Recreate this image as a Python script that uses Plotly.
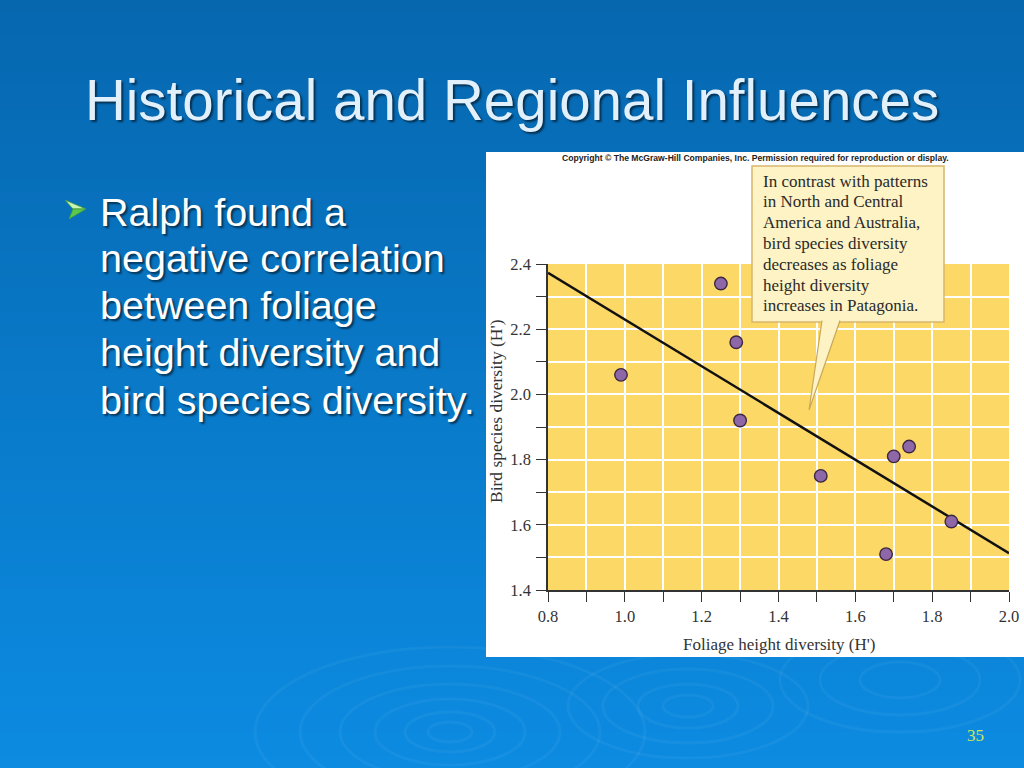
import plotly.graph_objects as go

# ---------------- data ----------------
foliage_height_diversity = [0.99, 1.25, 1.29, 1.30, 1.51, 1.70, 1.74, 1.85, 1.68]
bird_species_diversity = [2.06, 2.34, 2.16, 1.92, 1.75, 1.81, 1.84, 1.61, 1.51]

trend_x = [0.8, 2.0]
trend_y = [2.373, 1.513]

x_tick_values = [0.8, 0.9, 1.0, 1.1, 1.2, 1.3, 1.4, 1.5, 1.6, 1.7, 1.8, 1.9, 2.0]
x_tick_labels = ["0.8", "", "1.0", "", "1.2", "", "1.4", "", "1.6", "", "1.8", "", "2.0"]
y_tick_values = [1.4, 1.5, 1.6, 1.7, 1.8, 1.9, 2.0, 2.1, 2.2, 2.3, 2.4]
y_tick_labels = ["1.4", "", "1.6", "", "1.8", "", "2.0", "", "2.2", "", "2.4"]

slide_title = "Historical and Regional Influences"
bullet_lines = ["Ralph found a", "negative correlation", "between foliage",
                "height diversity and", "bird species diversity."]
callout_lines = ["In contrast with patterns", "in North and Central",
                 "America and Australia,", "bird species diversity",
                 "decreases as foliage", "height diversity",
                 "increases in Patagonia."]
x_title = "Foliage height diversity (H')"
y_title = "Bird species diversity (H')"
copyright_text = "Copyright \u00a9 The McGraw-Hill Companies, Inc. Permission required for reproduction or display."
page_number = "35"

# ---------------- helpers ----------------
W, H = 1024, 768


def px(x):
    return x / W


def py(y):
    return 1 - y / H


SERIF = "Liberation Serif, Times New Roman, serif"
SANS = "Liberation Sans, Arial, sans-serif"

shapes = []

# background gradient (stripes)
top_c = (6, 103, 175)
bot_c = (12, 139, 225)
n = 64
for i in range(n):
    t = i / (n - 1)
    c = tuple(round(top_c[k] + (bot_c[k] - top_c[k]) * t) for k in range(3))
    shapes.append(dict(type="rect", xref="paper", yref="paper",
                       x0=0, x1=1, y0=max(0, py(H * (i + 1) / n + 1)), y1=py(H * i / n),
                       fillcolor="rgb(%d,%d,%d)" % c, line=dict(width=0), layer="below"))

# faint ripples
ripple_sets = [((450, 732), [(22, 10), (45, 20), (75, 33), (110, 48), (150, 66), (195, 85)]),
               ((688, 706), [(25, 11), (50, 22), (85, 37), (120, 52)]),
               ((900, 680), [(40, 18), (80, 35), (120, 52)])]
for (cx, cy), radii in ripple_sets:
    for rx, ry in radii:
        shapes.append(dict(type="circle", xref="paper", yref="paper",
                           x0=px(cx - rx), x1=px(cx + rx), y0=py(cy + ry), y1=py(cy - ry),
                           line=dict(color="rgba(255,255,255,0.045)", width=3), layer="below"))

# white chart panel
shapes.append(dict(type="rect", xref="paper", yref="paper",
                   x0=px(486), x1=1, y0=py(657), y1=py(152),
                   fillcolor="white", line=dict(width=0), layer="below"))
# yellow plot area
shapes.append(dict(type="rect", xref="x domain", yref="y domain",
                   x0=0, x1=1, y0=0, y1=1,
                   fillcolor="#fcd867", line=dict(width=0), layer="below"))


def pth(points):
    s = "M %f,%f " % (px(points[0][0]), py(points[0][1]))
    for p in points[1:]:
        s += "L %f,%f " % (px(p[0]), py(p[1]))
    return s + "Z"


# bullet arrowhead
shapes.append(dict(type="path", xref="paper", yref="paper",
                   path=pth([(65, 200), (86, 209), (73, 209)]),
                   fillcolor="#c9f5b4", line=dict(color="#3f9c3a", width=0.8)))
shapes.append(dict(type="path", xref="paper", yref="paper",
                   path=pth([(73, 209), (86, 209), (69, 219)]),
                   fillcolor="#5cc84a", line=dict(color="#3f9c3a", width=0.8)))

# callout box
shapes.append(dict(type="rect", xref="paper", yref="paper",
                   x0=px(752), x1=px(944), y0=py(322), y1=py(166),
                   fillcolor="#fdf3c4", line=dict(color="#d8b76c", width=1.5)))
wedge = "M %f,%f L %f,%f L %f,%f" % (px(822), py(320.5), px(809), py(410), px(840), py(320.5))
shapes.append(dict(type="path", xref="paper", yref="paper", path=wedge,
                   fillcolor="#fdf3c4", line=dict(color="#c9a85c", width=1.2)))

annotations = []

text_shadow = "2px 2px 2px rgba(0,0,0,0.55)"
annotations.append(dict(x=px(512), y=py(100), xref="paper", yref="paper",
                        text=slide_title, showarrow=False, xanchor="center", yanchor="middle",
                        font=dict(family=SANS, size=56.5, color="#e2f0fb", shadow=text_shadow)))

bullet_y = [212, 258, 305, 352, 400]
for line, yy in zip(bullet_lines, bullet_y):
    annotations.append(dict(x=px(98), y=py(yy), xref="paper", yref="paper",
                            text=line, showarrow=False, xanchor="left", yanchor="middle",
                            font=dict(family=SANS, size=39.5, color="#ffffff", shadow=text_shadow)))

callout_y = [181, 201, 222, 243, 264, 285, 305]
for line, yy in zip(callout_lines, callout_y):
    annotations.append(dict(x=px(761), y=py(yy), xref="paper", yref="paper",
                            text=line, showarrow=False, xanchor="left", yanchor="middle",
                            font=dict(family=SERIF, size=17, color="#2a2a2a")))

annotations.append(dict(x=px(755), y=py(158), xref="paper", yref="paper",
                        text="<b>" + copyright_text + "</b>", showarrow=False,
                        xanchor="center", yanchor="middle",
                        font=dict(family=SANS, size=8.6, color="#222222")))

annotations.append(dict(x=px(779), y=py(644), xref="paper", yref="paper",
                        text=x_title, showarrow=False, xanchor="center", yanchor="middle",
                        font=dict(family=SERIF, size=17, color="#333333")))
annotations.append(dict(x=px(496), y=py(411), xref="paper", yref="paper",
                        text=y_title, showarrow=False, xanchor="center", yanchor="middle",
                        textangle=-90,
                        font=dict(family=SERIF, size=17.5, color="#333333")))

annotations.append(dict(x=px(975), y=py(735), xref="paper", yref="paper",
                        text=page_number, showarrow=False, xanchor="center", yanchor="middle",
                        font=dict(family=SERIF, size=17, color="#cde65a")))

# ---------------- figure ----------------
fig = go.Figure()
fig.add_trace(go.Scatter(x=trend_x, y=trend_y, mode="lines",
                         line=dict(color="#111111", width=2.5), hoverinfo="skip"))
fig.add_trace(go.Scatter(x=foliage_height_diversity, y=bird_species_diversity, mode="markers",
                         marker=dict(size=12.5, color="#8e67a8",
                                     line=dict(color="#3b2840", width=1.4))))

axis_common = dict(showgrid=True, gridcolor="white", gridwidth=1.6, zeroline=False,
                   showline=True, linecolor="#333333", linewidth=1.5,
                   ticks="outside", ticklen=10, tickcolor="#333333", tickwidth=1.3,
                   tickfont=dict(family=SERIF, size=16.5, color="#333333"),
                   fixedrange=True, automargin=False)

fig.update_layout(
    template="none",
    width=W, height=H, autosize=False,
    margin=dict(l=0, r=0, t=0, b=0, pad=0, autoexpand=False),
    paper_bgcolor="#0a78c8",
    plot_bgcolor="#fcd867",
    showlegend=False,
    xaxis=dict(domain=[px(548), px(1009)], range=[0.8, 2.0],
               tickmode="array", tickvals=x_tick_values, ticktext=x_tick_labels,
               **axis_common),
    yaxis=dict(domain=[py(590), py(264)], range=[1.4, 2.4],
               tickmode="array", tickvals=y_tick_values, ticktext=y_tick_labels,
               ticklabelstandoff=2,
               **axis_common),
    shapes=shapes,
    annotations=annotations,
)

fig.write_html("out.html", config={"displayModeBar": False},
               post_script="document.body.style.margin='0';document.body.style.overflow='hidden';")
